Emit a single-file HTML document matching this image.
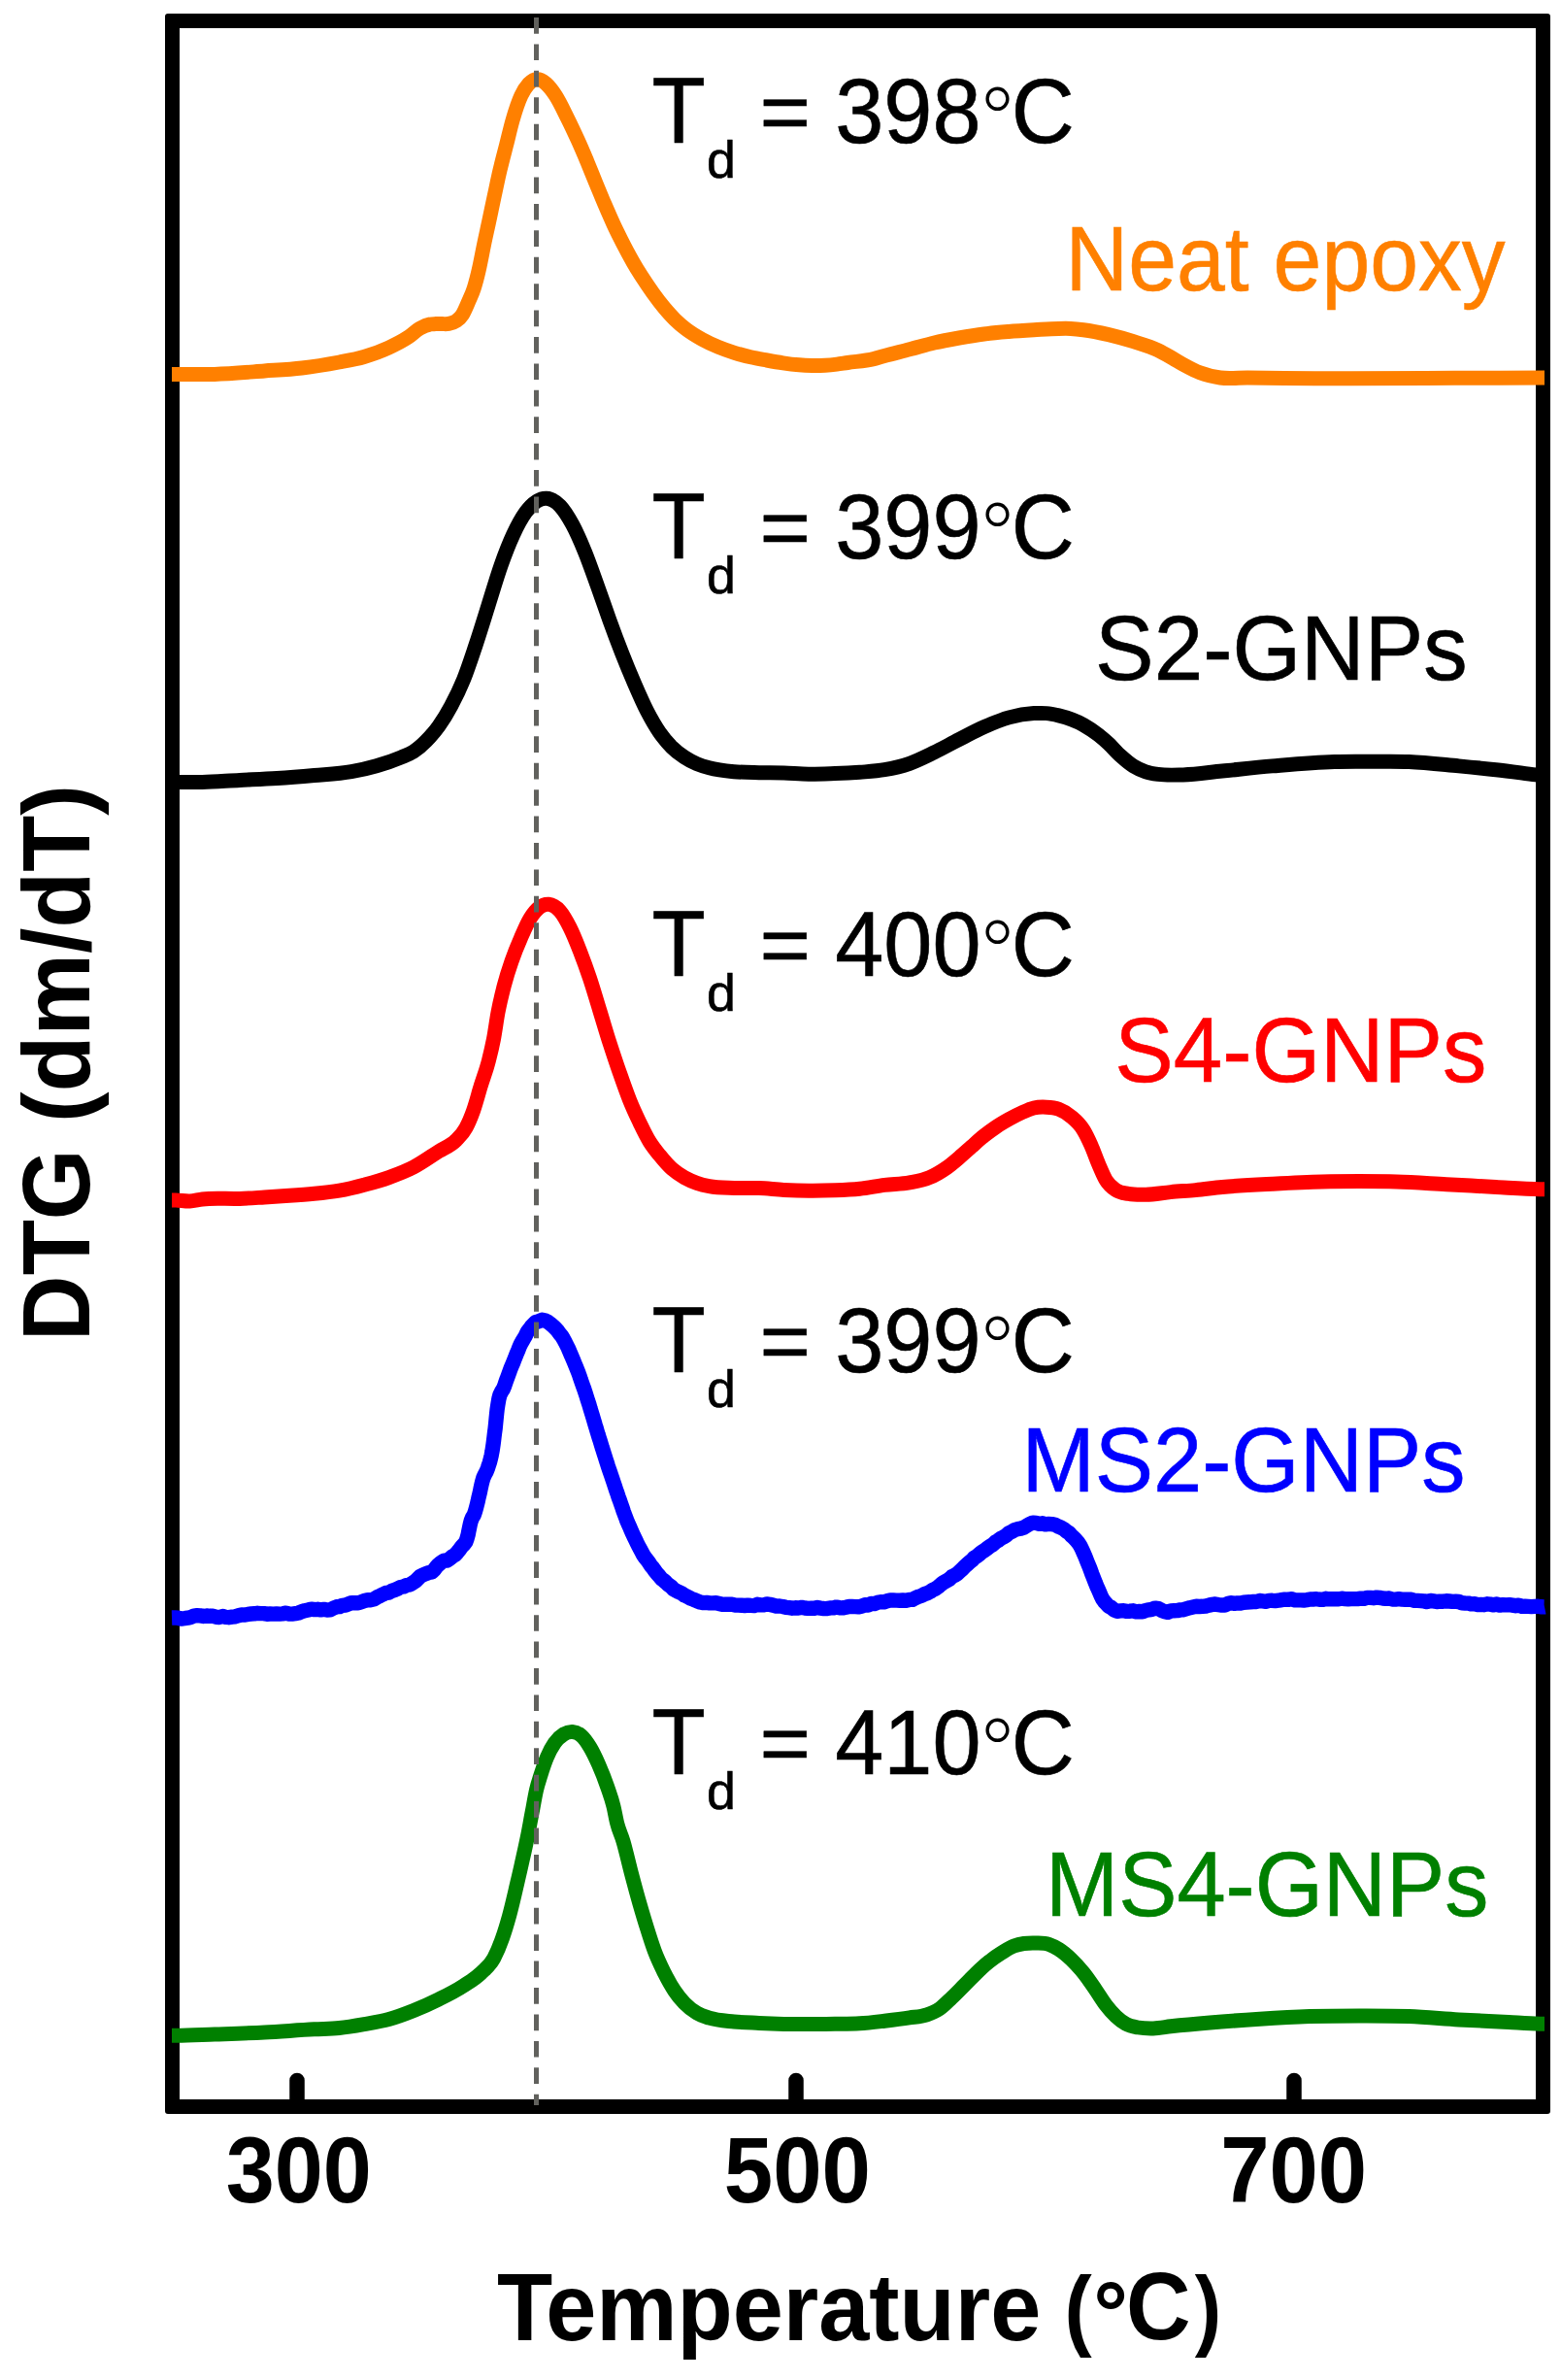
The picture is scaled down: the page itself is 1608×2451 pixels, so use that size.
<!DOCTYPE html>
<html><head><meta charset="utf-8"><title>DTG curves</title>
<style>html,body{margin:0;padding:0;background:#fff;overflow:hidden}svg{display:block}</style></head>
<body>
<svg width="1608" height="2451" viewBox="0 0 1608 2451">
<rect x="0" y="0" width="1608" height="2451" fill="#fff"/>
<path fill="#000" fill-rule="evenodd" d="M173 14H1594a3 3 0 0 1 3 3V2174a3 3 0 0 1 -3 3H173a3 3 0 0 1 -3 -3V17a3 3 0 0 1 3 -3ZM185 29V2162H1582V29Z"/>
<line x1="306" y1="2142.5" x2="306" y2="2165" stroke="#000" stroke-width="15.5" stroke-linecap="round"/>
<line x1="820" y1="2142.5" x2="820" y2="2165" stroke="#000" stroke-width="15.5" stroke-linecap="round"/>
<line x1="1333" y1="2142.5" x2="1333" y2="2165" stroke="#000" stroke-width="15.5" stroke-linecap="round"/>
<path d="M177.0 385.4C178.7 385.4 180.3 385.4 182.0 385.4C195.0 385.4 208.0 385.8 221.0 385.4C238.2 384.9 255.3 383.3 272.5 382.0C285.3 381.1 298.2 380.5 311.0 379.0C323.8 377.5 336.6 375.4 349.4 373.0C357.9 371.4 366.5 370.0 375.0 367.5C383.5 365.0 392.1 362.0 400.6 358.0C407.1 355.0 413.5 351.9 420.0 347.6C424.3 344.8 428.5 340.4 432.8 338.0C436.2 336.1 439.6 334.6 443.0 334.0C445.0 333.6 447.0 333.7 449.0 333.6C451.3 333.5 453.7 333.6 456.0 333.6C458.1 333.6 460.2 333.8 462.3 333.4C464.9 332.9 467.4 332.4 470.0 330.5C472.1 329.0 474.3 327.4 476.4 324.0C478.6 320.5 480.8 314.9 483.0 309.8C484.7 305.8 486.5 302.4 488.2 297.0C489.9 291.7 491.6 285.2 493.3 277.8C495.0 270.3 496.8 260.5 498.5 252.2C500.3 243.4 502.2 235.2 504.0 226.6C505.8 218.1 507.6 209.4 509.4 201.0C511.3 192.3 513.1 183.3 515.0 175.3C517.2 166.0 519.3 158.2 521.5 149.7C523.7 141.1 525.8 131.6 528.0 124.0C531.0 113.6 533.9 104.8 536.9 98.4C539.4 92.9 542.0 89.3 544.5 86.5C546.0 84.9 547.5 83.6 549.0 82.8C550.4 82.1 551.8 81.9 553.2 81.8C554.6 81.8 556.1 82.0 557.5 82.6C559.1 83.3 560.7 84.6 562.3 86.0C565.6 88.9 569.0 93.3 572.3 98.4C576.4 104.7 580.4 113.4 584.5 121.6C588.1 128.8 591.6 136.3 595.2 144.2C598.5 151.4 601.7 159.0 605.0 166.8C607.8 173.6 610.7 180.8 613.5 187.7C616.7 195.4 619.8 203.2 623.0 210.6C626.0 217.6 629.0 224.5 632.0 231.0C634.5 236.4 637.0 241.4 639.5 246.4C643.7 254.8 648.0 262.8 652.2 270.2C654.9 274.9 657.6 279.3 660.3 283.6C664.4 290.0 668.4 295.9 672.5 301.6C676.5 307.2 680.6 312.6 684.6 317.4C688.1 321.5 691.5 325.4 695.0 328.8C698.9 332.6 702.7 335.9 706.6 338.9C712.2 343.2 717.7 346.4 723.3 349.5C728.9 352.6 734.4 355.1 740.0 357.4C745.5 359.7 751.1 361.6 756.6 363.3C762.1 365.0 767.7 366.5 773.2 367.8C778.8 369.1 784.4 370.0 790.0 371.0C795.5 372.0 801.1 373.0 806.6 373.8C812.1 374.6 817.7 375.3 823.2 375.8C827.6 376.2 832.1 376.4 836.5 376.5C841.0 376.6 845.5 376.5 850.0 376.2C854.0 376.0 858.0 375.6 862.0 375.1C865.7 374.7 869.5 374.0 873.2 373.5C882.1 372.2 891.1 371.8 900.0 369.6C903.7 368.7 907.3 367.5 911.0 366.5C919.7 364.1 928.3 362.1 937.0 359.8C945.5 357.6 954.0 355.0 962.5 353.0C971.0 351.0 979.5 349.5 988.0 348.0C996.6 346.5 1005.1 345.1 1013.7 344.0C1022.1 342.9 1030.6 342.2 1039.0 341.5C1047.7 340.8 1056.3 340.3 1065.0 339.8C1073.5 339.3 1082.1 338.6 1090.6 338.4C1094.7 338.3 1098.9 338.2 1103.0 338.4C1107.3 338.6 1111.7 339.1 1116.0 339.7C1124.7 340.8 1133.3 342.6 1142.0 344.6C1150.5 346.6 1159.0 349.0 1167.5 351.7C1176.0 354.4 1184.5 356.6 1193.0 360.7C1198.0 363.1 1203.0 366.1 1208.0 369.0C1212.0 371.3 1216.0 373.8 1220.0 376.0C1225.3 378.9 1230.7 381.8 1236.0 383.8C1243.0 386.5 1250.0 388.0 1257.0 389.0C1266.3 390.3 1275.7 389.0 1285.0 389.0C1297.7 389.1 1310.3 389.3 1323.0 389.4C1412.3 390.2 1501.7 389.1 1591.0 389.0" fill="none" stroke="#ff8000" stroke-width="15" stroke-linejoin="round" stroke-linecap="butt"/>
<path d="M177.0 805.4C187.5 805.4 197.9 805.6 208.4 805.4C221.3 805.1 234.1 804.0 247.0 803.4C259.8 802.8 272.5 802.4 285.3 801.6C298.1 800.8 310.9 799.7 323.7 798.5C336.5 797.4 349.2 797.0 362.0 794.7C370.6 793.2 379.2 791.3 387.8 788.8C396.3 786.3 404.9 783.4 413.4 779.8C417.6 778.0 421.8 776.7 426.0 774.0C430.3 771.2 434.7 767.4 439.0 763.0C443.3 758.6 447.7 753.9 452.0 747.8C456.2 741.8 460.5 734.9 464.7 727.0C469.0 719.0 473.2 710.6 477.5 700.0C481.7 689.7 485.8 677.0 490.0 664.5C494.3 651.5 498.7 637.2 503.0 623.5C507.3 609.8 511.7 594.8 516.0 582.5C520.2 570.5 524.5 559.6 528.7 550.5C533.0 541.2 537.3 533.3 541.6 527.4C545.2 522.5 548.9 518.8 552.5 516.5C555.9 514.3 559.4 513.1 562.8 513.3C567.5 513.5 572.2 516.1 576.9 521.0C581.2 525.5 585.4 532.3 589.7 540.2C594.0 548.1 598.2 557.9 602.5 568.4C606.8 578.9 611.0 591.2 615.3 603.0C619.5 614.7 623.8 627.3 628.0 638.9C632.3 650.8 636.7 662.5 641.0 673.5C645.2 684.2 649.5 694.5 653.7 704.2C658.0 714.1 662.3 724.0 666.6 732.4C670.9 740.7 675.1 748.0 679.4 754.2C683.7 760.4 687.9 765.3 692.2 769.6C696.5 773.9 700.7 776.9 705.0 779.8C709.3 782.6 713.5 784.9 717.8 786.7C722.1 788.5 726.3 789.7 730.6 790.8C739.1 793.1 747.7 793.9 756.2 794.7C764.8 795.5 773.3 795.5 781.9 795.7C790.4 795.9 799.0 795.7 807.5 796.0C816.0 796.3 824.5 797.1 833.0 797.2C842.0 797.3 851.0 796.9 860.0 796.6C868.5 796.3 877.1 795.9 885.6 795.3C894.1 794.6 902.7 794.2 911.2 792.7C919.8 791.2 928.3 789.3 936.9 786.3C945.4 783.3 954.0 778.9 962.5 774.8C971.0 770.7 979.5 765.8 988.0 761.5C996.6 757.1 1005.1 752.5 1013.7 748.7C1022.3 744.9 1030.8 741.3 1039.4 738.9C1047.9 736.6 1056.5 735.1 1065.0 734.6C1069.3 734.4 1073.5 734.2 1077.8 734.6C1082.1 735.0 1086.3 735.9 1090.6 736.9C1099.1 739.0 1107.7 741.8 1116.2 746.6C1121.3 749.5 1126.5 752.9 1131.6 756.9C1135.0 759.6 1138.5 762.6 1141.9 765.8C1146.2 769.8 1150.4 774.9 1154.7 778.7C1159.0 782.6 1163.2 786.2 1167.5 788.9C1171.8 791.6 1176.0 793.4 1180.3 794.8C1184.5 796.2 1188.8 796.8 1193.0 797.4C1201.6 798.6 1210.1 798.1 1218.7 797.9C1232.1 797.6 1245.6 795.3 1259.0 794.0C1276.2 792.3 1293.3 790.4 1310.5 788.9C1331.9 787.1 1353.2 785.1 1374.6 784.5C1387.4 784.1 1400.2 784.3 1413.0 784.3C1425.8 784.3 1438.6 784.0 1451.4 784.5C1468.5 785.2 1485.6 787.3 1502.7 788.9C1515.5 790.1 1528.2 791.3 1541.0 792.7C1554.7 794.2 1568.3 796.2 1582.0 797.9C1585.0 798.3 1588.0 798.6 1591.0 799.0" fill="none" stroke="#000000" stroke-width="15" stroke-linejoin="round" stroke-linecap="butt"/>
<path d="M177.0 1236.0C178.3 1236.0 179.7 1236.0 181.0 1236.0C185.9 1236.1 190.7 1237.2 195.6 1237.0C199.9 1236.8 204.1 1235.5 208.4 1235.0C221.3 1233.4 234.1 1234.9 247.0 1234.4C255.5 1234.1 264.0 1233.5 272.5 1233.0C281.0 1232.5 289.5 1231.9 298.0 1231.3C306.6 1230.7 315.1 1230.1 323.7 1229.3C332.3 1228.5 340.8 1227.7 349.4 1226.2C357.9 1224.7 366.5 1222.6 375.0 1220.3C383.5 1218.0 392.1 1215.7 400.6 1212.6C409.1 1209.5 417.7 1206.4 426.2 1201.9C434.8 1197.4 443.3 1191.2 451.9 1185.7C457.9 1181.9 463.8 1180.4 469.8 1174.2C473.2 1170.7 476.6 1167.8 480.0 1161.4C482.6 1156.6 485.1 1150.7 487.7 1143.4C490.3 1136.1 492.8 1126.2 495.4 1117.8C498.1 1109.0 500.8 1102.6 503.5 1092.0C505.2 1085.4 506.8 1078.8 508.5 1070.0C510.0 1062.0 511.5 1050.6 513.0 1042.5C515.1 1031.2 517.2 1023.1 519.3 1015.0C521.9 1005.1 524.4 997.5 527.0 990.0C530.2 980.7 533.3 973.3 536.5 966.0C539.7 958.7 542.8 951.2 546.0 946.0C549.2 940.8 552.3 937.0 555.5 934.5C558.8 932.0 562.0 931.0 565.3 931.3C569.2 931.7 573.0 933.9 576.9 938.4C580.3 942.3 583.6 948.3 587.0 955.0C590.5 961.9 593.9 970.5 597.4 979.4C600.8 988.1 604.2 997.4 607.6 1007.6C611.0 1017.9 614.5 1029.8 617.9 1041.0C621.3 1052.0 624.6 1063.5 628.0 1074.0C631.5 1084.8 634.9 1095.1 638.4 1105.0C641.8 1114.7 645.2 1124.5 648.6 1133.0C652.0 1141.6 655.5 1148.9 658.9 1156.0C662.3 1163.0 665.6 1170.0 669.0 1175.5C672.5 1181.2 675.9 1185.3 679.4 1189.6C683.7 1194.9 687.9 1199.9 692.2 1203.7C696.5 1207.5 700.7 1210.2 705.0 1212.6C709.3 1215.0 713.5 1216.8 717.8 1218.3C722.1 1219.8 726.3 1220.8 730.6 1221.6C739.1 1223.3 747.7 1223.1 756.2 1223.4C764.8 1223.7 773.3 1223.3 781.9 1223.6C790.4 1223.9 799.0 1225.0 807.5 1225.4C816.0 1225.8 824.5 1226.1 833.0 1226.2C842.0 1226.3 851.0 1226.1 860.0 1225.8C868.5 1225.5 877.1 1225.2 885.6 1224.3C894.1 1223.4 902.7 1221.5 911.2 1220.4C919.8 1219.3 928.3 1219.5 936.9 1217.9C943.7 1216.6 950.6 1215.6 957.4 1212.7C963.4 1210.2 969.3 1206.7 975.3 1202.5C979.5 1199.5 983.8 1195.8 988.0 1192.2C992.3 1188.5 996.7 1184.5 1001.0 1180.7C1005.2 1177.0 1009.5 1173.1 1013.7 1169.7C1018.0 1166.3 1022.3 1163.1 1026.6 1160.2C1030.9 1157.3 1035.1 1154.9 1039.4 1152.5C1043.7 1150.1 1047.9 1147.9 1052.2 1146.0C1056.5 1144.1 1060.7 1142.0 1065.0 1141.0C1069.3 1140.0 1073.5 1140.0 1077.8 1140.2C1082.1 1140.4 1086.3 1140.7 1090.6 1142.3C1094.9 1143.9 1099.1 1146.4 1103.4 1150.0C1107.7 1153.6 1111.9 1156.9 1116.2 1164.0C1118.8 1168.3 1121.3 1173.6 1123.9 1179.4C1126.5 1185.2 1129.0 1192.7 1131.6 1198.7C1134.2 1204.7 1136.7 1211.0 1139.3 1215.3C1142.7 1221.0 1146.2 1223.2 1149.6 1225.6C1153.9 1228.5 1158.1 1228.6 1162.4 1229.4C1168.4 1230.5 1174.3 1230.3 1180.3 1230.2C1188.9 1230.1 1197.4 1228.4 1206.0 1227.6C1214.5 1226.8 1223.1 1226.4 1231.6 1225.6C1240.7 1224.7 1249.9 1223.4 1259.0 1222.5C1276.2 1220.9 1293.3 1220.1 1310.5 1219.2C1327.6 1218.3 1344.6 1217.4 1361.7 1217.0C1374.5 1216.7 1387.2 1216.6 1400.0 1216.6C1412.9 1216.6 1425.7 1216.6 1438.6 1217.0C1455.7 1217.5 1472.9 1218.8 1490.0 1219.7C1507.0 1220.6 1524.0 1221.6 1541.0 1222.5C1556.0 1223.3 1571.0 1224.4 1586.0 1224.7C1587.7 1224.7 1589.3 1224.8 1591.0 1224.8" fill="none" stroke="#ff0000" stroke-width="15" stroke-linejoin="round" stroke-linecap="butt"/>
<path d="M177.0 1666.0L180.2 1665.9L183.5 1666.2L186.8 1667.1L190.0 1666.7L193.3 1666.2L196.5 1665.5L199.8 1664.1L203.0 1663.7L206.3 1663.9L209.6 1664.5L212.9 1664.0L216.2 1664.3L219.4 1664.2L222.7 1665.3L226.0 1665.5L229.3 1664.5L232.5 1665.4L235.8 1665.7L239.1 1665.2L242.4 1664.8L245.6 1663.7L248.9 1662.9L252.2 1663.1L255.4 1662.4L258.7 1662.0L262.0 1661.8L265.2 1661.3L268.5 1661.6L271.7 1661.6L275.0 1662.2L278.2 1662.0L281.5 1662.1L284.8 1661.9L288.0 1662.1L291.2 1661.8L294.5 1661.2L297.8 1662.0L301.0 1662.1L304.3 1661.7L307.6 1661.0L310.9 1659.7L314.1 1658.7L317.4 1658.0L320.7 1657.1L323.9 1657.6L327.2 1657.3L330.4 1657.9L333.7 1657.4L336.9 1658.0L340.2 1657.9L343.4 1656.1L346.7 1654.8L349.7 1654.6L352.7 1653.3L356.0 1653.0L359.2 1651.8L362.5 1650.6L365.8 1650.7L369.0 1650.8L372.2 1649.7L375.5 1648.5L378.8 1647.7L382.0 1647.7L385.2 1646.8L388.5 1644.8L391.5 1643.4L394.5 1641.9L397.5 1640.5L400.5 1640.2L403.6 1638.4L406.6 1637.4L409.6 1636.1L412.6 1634.5L415.7 1634.0L418.9 1632.5L422.2 1631.9L425.2 1630.1L428.0 1628.3L430.5 1625.8L433.0 1623.3L435.5 1622.0L438.5 1620.7L441.9 1619.5L444.9 1619.0L447.5 1616.3L449.6 1613.5L451.6 1611.4L454.2 1609.3L457.2 1607.2L460.4 1607.1L463.4 1605.1L466.2 1602.8L468.8 1601.2L471.1 1598.7L473.4 1595.9L475.4 1593.0L477.7 1590.6L479.8 1588.0L481.0 1584.6L482.1 1580.7L482.8 1577.0L483.6 1573.1L484.3 1569.7L485.3 1565.9L486.6 1562.8L488.2 1560.2L489.4 1556.8L490.4 1553.2L491.4 1549.4L492.2 1546.2L492.9 1542.8L493.7 1539.4L494.5 1536.1L495.2 1532.5L496.0 1528.8L496.8 1525.6L497.8 1522.1L499.1 1519.1L500.9 1515.8L502.4 1512.1L503.4 1508.9L504.4 1506.0L505.4 1502.1L506.2 1498.7L507.0 1494.4L507.5 1491.3L508.0 1487.8L508.5 1483.9L509.0 1479.9L509.5 1475.8L510.1 1471.4L510.6 1466.5L511.1 1461.3L511.6 1456.3L512.1 1451.6L512.7 1447.6L513.2 1444.5L513.9 1440.5L514.9 1436.6L516.5 1433.3L518.2 1430.7L519.8 1426.9L521.0 1423.3L522.2 1419.9L523.5 1416.5L524.8 1412.9L526.0 1409.5L527.2 1406.6L528.5 1403.6L529.8 1400.3L531.0 1397.2L532.2 1394.2L533.8 1390.4L535.2 1386.8L536.8 1383.4L538.2 1381.0L539.8 1378.2L541.5 1375.3L543.2 1371.7L545.3 1369.0L547.3 1366.3L549.5 1363.9L552.0 1361.4L555.1 1360.7L558.4 1359.3L561.8 1360.0L564.8 1361.6L567.5 1363.8L570.0 1365.9L572.3 1368.1L574.6 1370.7L576.6 1373.5L578.7 1376.0L580.5 1379.0L582.3 1382.4L583.8 1385.4L585.3 1388.4L586.8 1391.9L588.1 1395.0L589.4 1397.9L590.7 1401.0L591.9 1404.0L593.2 1407.2L594.5 1410.4L595.7 1413.4L597.0 1417.0L598.2 1420.7L599.5 1424.3L600.7 1427.8L602.0 1431.3L603.0 1434.4L604.0 1437.5L605.0 1440.7L606.1 1444.1L607.1 1447.2L608.1 1450.8L609.1 1454.0L610.2 1457.5L611.2 1460.9L612.2 1464.2L613.2 1467.7L614.2 1470.9L615.2 1474.3L616.2 1477.7L617.2 1480.8L618.2 1483.9L619.2 1487.2L620.2 1490.6L621.2 1493.7L622.2 1496.8L623.3 1500.3L624.3 1503.5L625.3 1506.5L626.3 1509.8L627.3 1512.7L628.4 1515.8L629.6 1519.4L630.9 1523.2L632.2 1527.1L633.5 1531.0L634.7 1534.8L636.0 1538.3L637.2 1542.0L638.5 1545.5L639.7 1549.0L641.0 1552.6L642.2 1556.4L643.5 1559.9L644.8 1563.2L646.0 1566.6L647.3 1569.4L648.6 1572.3L649.9 1575.4L651.4 1578.8L652.9 1582.1L654.5 1585.4L656.0 1588.6L657.5 1591.6L659.2 1594.7L661.0 1598.1L662.7 1601.4L664.5 1604.0L666.3 1606.3L668.3 1608.9L670.4 1612.3L672.4 1614.5L674.5 1617.5L676.7 1620.4L679.0 1622.8L681.2 1625.7L683.5 1627.4L686.0 1629.6L688.5 1632.1L691.0 1633.7L693.8 1636.6L696.5 1638.2L699.3 1639.6L702.4 1641.0L705.4 1643.1L708.5 1644.5L711.5 1646.1L714.8 1647.4L718.0 1648.8L721.2 1650.0L724.5 1650.6L727.8 1650.4L731.0 1650.9L734.3 1650.9L737.6 1650.7L740.9 1651.5L744.2 1652.4L747.4 1652.1L750.7 1652.2L753.9 1652.3L757.2 1653.0L760.5 1653.1L763.7 1653.2L767.0 1653.5L770.3 1653.1L773.5 1653.4L776.8 1653.6L780.1 1652.3L783.3 1652.9L786.6 1652.9L789.9 1652.0L793.1 1652.4L796.4 1653.1L799.7 1654.1L803.0 1654.0L806.2 1654.5L809.5 1655.3L812.8 1655.7L816.0 1656.2L819.2 1655.8L822.5 1656.0L825.8 1655.4L829.0 1656.0L832.2 1656.4L835.5 1656.3L838.8 1656.3L842.0 1655.5L845.2 1656.1L848.5 1656.5L851.8 1656.6L855.0 1655.9L858.2 1655.9L861.5 1655.1L864.8 1655.7L868.0 1655.9L871.3 1655.2L874.6 1654.4L877.8 1654.5L881.1 1654.6L884.3 1654.8L887.6 1654.2L890.9 1652.8L894.2 1653.0L897.4 1651.5L900.7 1651.6L904.0 1650.3L907.2 1649.7L910.5 1649.9L913.8 1648.8L917.0 1648.0L920.2 1648.0L923.5 1648.1L926.8 1648.2L930.0 1648.0L933.3 1648.2L936.6 1647.4L939.8 1647.4L943.1 1645.6L946.4 1644.2L949.4 1643.2L952.4 1641.6L955.4 1640.6L958.5 1639.0L961.2 1637.2L964.0 1635.9L966.8 1633.8L969.5 1631.5L972.3 1629.4L975.0 1627.9L977.8 1626.4L980.6 1623.7L983.4 1622.3L986.2 1620.6L988.8 1618.2L991.2 1616.0L993.8 1613.2L996.2 1611.1L998.8 1608.8L1001.3 1606.8L1003.8 1604.0L1006.3 1602.7L1008.9 1600.5L1011.4 1598.3L1014.2 1596.6L1017.0 1594.5L1019.8 1592.4L1022.6 1590.8L1025.3 1588.2L1028.1 1586.5L1030.9 1584.4L1033.6 1583.0L1036.4 1581.4L1039.1 1578.9L1042.2 1577.4L1045.2 1575.6L1048.4 1574.7L1051.4 1574.2L1054.5 1573.2L1057.6 1571.3L1060.6 1569.5L1063.9 1568.1L1067.2 1568.4L1070.5 1569.3L1073.8 1568.8L1077.0 1569.9L1080.3 1569.4L1083.6 1569.6L1086.8 1570.2L1090.1 1572.0L1093.1 1573.2L1096.1 1574.9L1098.9 1577.2L1101.4 1578.8L1103.9 1581.7L1106.4 1583.8L1108.7 1586.4L1110.7 1588.8L1112.7 1591.8L1114.5 1595.4L1116.0 1598.7L1117.3 1601.7L1118.6 1604.9L1119.9 1608.2L1121.1 1611.1L1122.4 1614.2L1123.7 1617.7L1124.9 1621.1L1126.2 1624.3L1127.5 1627.7L1128.7 1630.8L1130.0 1633.9L1131.3 1636.7L1132.6 1639.8L1134.1 1643.4L1135.7 1646.6L1137.5 1649.2L1139.5 1651.4L1142.0 1654.2L1144.7 1655.4L1147.8 1657.9L1150.8 1659.3L1154.1 1658.9L1157.4 1658.8L1160.6 1659.4L1163.9 1659.2L1167.2 1658.8L1170.5 1659.8L1173.7 1659.5L1177.0 1659.7L1180.3 1658.5L1183.6 1657.8L1186.8 1657.3L1190.1 1656.1L1193.4 1656.6L1196.4 1658.3L1199.7 1659.7L1203.0 1660.3L1206.2 1659.0L1209.5 1658.7L1212.7 1658.6L1216.0 1657.9L1219.2 1657.7L1222.5 1656.7L1225.8 1655.7L1229.0 1655.0L1232.3 1654.3L1235.6 1654.5L1238.8 1654.3L1242.1 1654.0L1245.4 1653.1L1248.7 1652.4L1251.9 1652.0L1255.2 1652.6L1258.4 1653.0L1261.7 1653.0L1264.9 1651.5L1268.2 1650.6L1271.4 1651.4L1274.7 1650.9L1277.9 1651.0L1281.2 1650.2L1284.4 1650.0L1287.7 1649.8L1290.9 1649.5L1294.2 1649.5L1297.4 1648.5L1300.7 1648.9L1303.9 1649.3L1307.2 1648.4L1310.5 1648.3L1313.7 1648.6L1317.0 1648.2L1320.2 1647.6L1323.5 1647.1L1326.7 1647.4L1330.0 1646.7L1333.2 1647.7L1336.5 1647.9L1339.8 1647.9L1343.0 1648.0L1346.3 1647.6L1349.5 1647.0L1352.8 1647.0L1356.1 1646.7L1359.3 1647.3L1362.6 1647.3L1365.8 1646.3L1369.1 1646.8L1372.4 1646.8L1375.6 1646.8L1378.9 1646.8L1382.1 1646.2L1385.4 1646.6L1388.7 1646.8L1391.9 1646.6L1395.2 1646.6L1398.4 1646.6L1401.7 1646.1L1405.0 1646.3L1408.2 1645.4L1411.5 1645.4L1414.8 1645.7L1418.0 1645.1L1421.3 1645.4L1424.5 1646.0L1427.8 1646.4L1431.1 1646.0L1434.3 1647.0L1437.6 1647.1L1440.9 1646.7L1444.1 1647.1L1447.4 1647.2L1450.6 1647.3L1453.9 1647.3L1457.2 1648.3L1460.4 1648.4L1463.7 1648.6L1466.9 1648.9L1470.2 1649.6L1473.5 1648.4L1476.7 1648.9L1480.0 1649.5L1483.2 1649.1L1486.5 1649.2L1489.7 1648.8L1493.0 1649.0L1496.2 1649.4L1499.5 1649.3L1502.8 1649.5L1506.0 1650.8L1509.2 1651.0L1512.5 1651.1L1515.8 1651.9L1519.0 1651.8L1522.2 1652.6L1525.5 1652.4L1528.8 1652.7L1532.0 1651.8L1535.2 1652.2L1538.5 1652.8L1541.8 1652.0L1545.0 1653.1L1548.2 1652.6L1551.5 1652.9L1554.8 1652.6L1558.0 1653.1L1561.2 1653.7L1564.5 1653.1L1567.8 1654.4L1571.0 1654.2L1574.2 1654.4L1577.5 1654.6L1580.8 1654.4L1584.0 1654.2L1587.2 1654.8L1590.5 1654.9L1591.0 1654.8" fill="none" stroke="#0000ff" stroke-width="15.4" stroke-linejoin="round" stroke-linecap="butt"/>
<path d="M177.0 2096.2C178.7 2096.2 180.3 2096.2 182.0 2096.2C195.1 2096.2 208.1 2095.4 221.2 2095.0C238.3 2094.4 255.4 2093.9 272.5 2093.0C289.6 2092.1 306.6 2090.7 323.7 2089.8C332.3 2089.3 340.8 2089.4 349.4 2088.5C357.9 2087.6 366.5 2086.1 375.0 2084.6C383.5 2083.1 392.1 2081.8 400.6 2079.5C409.1 2077.2 417.7 2073.9 426.2 2070.5C434.8 2067.1 443.3 2063.3 451.9 2059.0C460.4 2054.8 469.0 2050.6 477.5 2045.0C483.5 2041.1 489.4 2037.8 495.4 2032.0C499.8 2027.7 504.3 2025.0 508.7 2016.7C511.6 2011.2 514.6 2004.3 517.5 1996.0C519.9 1989.3 522.2 1981.7 524.6 1973.0C526.8 1964.9 529.0 1955.3 531.2 1946.0C533.2 1937.4 535.3 1928.6 537.3 1919.5C539.3 1910.6 541.3 1901.9 543.3 1892.0C545.0 1883.7 546.6 1874.3 548.3 1865.5C549.7 1858.1 551.1 1849.6 552.5 1843.5C554.0 1836.9 555.5 1832.8 557.0 1828.0C559.1 1821.3 561.2 1815.1 563.3 1810.0C566.0 1803.5 568.6 1798.9 571.3 1795.0C574.4 1790.4 577.6 1787.9 580.7 1786.0C583.7 1784.2 586.7 1783.4 589.7 1783.6C592.7 1783.8 595.7 1784.8 598.7 1787.4C601.7 1790.0 604.6 1794.1 607.6 1799.0C610.6 1803.9 613.6 1810.2 616.6 1817.0C619.6 1823.8 622.6 1831.2 625.6 1840.0C627.7 1846.2 629.9 1851.5 632.0 1860.4C633.2 1865.3 634.3 1872.2 635.5 1877.0C637.7 1885.9 639.8 1889.0 642.0 1896.3C644.8 1905.9 647.7 1918.9 650.5 1929.6C653.3 1940.2 656.1 1950.6 658.9 1960.4C661.5 1969.4 664.0 1977.9 666.6 1986.0C669.1 1994.0 671.7 2002.2 674.2 2009.0C677.6 2018.2 681.1 2025.1 684.5 2032.0C687.9 2038.8 691.3 2044.9 694.7 2050.0C698.1 2055.2 701.6 2059.3 705.0 2062.9C709.3 2067.4 713.5 2070.5 717.8 2073.0C722.1 2075.6 726.3 2076.8 730.6 2078.2C739.1 2080.9 747.7 2081.1 756.2 2082.0C764.8 2082.9 773.3 2083.0 781.9 2083.4C798.9 2084.2 816.0 2084.6 833.0 2084.6C842.0 2084.6 851.0 2084.4 860.0 2084.3C868.5 2084.2 877.1 2084.3 885.6 2083.8C894.1 2083.3 902.7 2082.2 911.2 2081.2C919.8 2080.2 928.3 2079.2 936.9 2077.9C942.9 2077.0 948.8 2076.8 954.8 2074.8C959.1 2073.3 963.3 2071.8 967.6 2068.9C971.9 2066.0 976.1 2061.5 980.4 2057.4C984.7 2053.3 988.9 2048.9 993.2 2044.6C997.5 2040.3 1001.7 2035.8 1006.0 2031.7C1010.3 2027.6 1014.6 2023.6 1018.9 2020.2C1023.2 2016.8 1027.4 2013.9 1031.7 2011.2C1036.0 2008.5 1040.2 2005.6 1044.5 2004.0C1047.9 2002.7 1051.3 2002.0 1054.7 2001.5C1059.0 2000.8 1063.3 2000.9 1067.6 2001.0C1071.9 2001.1 1076.1 2000.9 1080.4 2002.3C1083.8 2003.4 1087.2 2005.2 1090.6 2007.4C1094.9 2010.1 1099.1 2013.7 1103.4 2017.7C1107.7 2021.8 1111.9 2026.4 1116.2 2031.7C1120.5 2037.0 1124.7 2043.5 1129.0 2049.7C1132.4 2054.7 1135.9 2060.5 1139.3 2065.0C1142.7 2069.5 1146.2 2073.4 1149.6 2076.6C1153.0 2079.8 1156.4 2082.4 1159.8 2084.3C1164.1 2086.6 1168.3 2087.2 1172.6 2088.0C1177.7 2088.9 1182.9 2089.0 1188.0 2088.9C1194.0 2088.8 1200.0 2087.5 1206.0 2086.8C1219.5 2085.3 1232.9 2084.1 1246.4 2083.0C1263.5 2081.5 1280.6 2080.3 1297.7 2079.2C1314.8 2078.1 1331.9 2077.1 1349.0 2076.6C1366.0 2076.1 1383.0 2076.0 1400.0 2076.0C1417.1 2076.0 1434.3 2075.9 1451.4 2076.6C1468.5 2077.3 1485.6 2078.9 1502.7 2079.9C1519.8 2080.9 1536.9 2081.6 1554.0 2082.5C1564.7 2083.1 1575.3 2083.9 1586.0 2084.2C1587.7 2084.2 1589.3 2084.3 1591.0 2084.3" fill="none" stroke="#008000" stroke-width="15" stroke-linejoin="round" stroke-linecap="butt"/>
<line x1="552.5" y1="17.96" x2="552.5" y2="2168" stroke="#61615d" stroke-width="5" stroke-dasharray="16.7 10.72"/>
<g><text transform="translate(671.39,146.90) scale(0.9537,1.0062)" font-family="Liberation Sans, Arial, sans-serif" font-size="95" font-weight="normal" fill="#000" stroke="#000" stroke-width="0.6">T</text><text transform="translate(727.98,183.20) scale(1.0125,1.0051)" font-family="Liberation Sans, Arial, sans-serif" font-size="53" font-weight="normal" fill="#000" stroke="#000" stroke-width="0.6">d</text><text transform="translate(782.55,144.10) scale(0.9500,0.9000)" font-family="Liberation Sans, Arial, sans-serif" font-size="95" font-weight="normal" fill="#000" stroke="#000" stroke-width="0.6">=</text><text transform="translate(860.21,146.81) scale(0.9487,0.9896)" font-family="Liberation Sans, Arial, sans-serif" font-size="95" font-weight="normal" fill="#000" stroke="#000" stroke-width="0.6">398</text><text transform="translate(1005.00,154.50) scale(1.0000,1.0000)" font-family="DejaVu Sans Light, DejaVu Sans, sans-serif" font-size="90" font-weight="200" fill="#000">°</text><text transform="translate(1041.86,146.80) scale(0.9483,1.0030)" font-family="Liberation Sans, Arial, sans-serif" font-size="95" font-weight="normal" fill="#000" stroke="#000" stroke-width="0.6">C</text></g>
<g><text transform="translate(671.39,574.90) scale(0.9537,1.0062)" font-family="Liberation Sans, Arial, sans-serif" font-size="95" font-weight="normal" fill="#000" stroke="#000" stroke-width="0.6">T</text><text transform="translate(727.98,611.20) scale(1.0125,1.0051)" font-family="Liberation Sans, Arial, sans-serif" font-size="53" font-weight="normal" fill="#000" stroke="#000" stroke-width="0.6">d</text><text transform="translate(782.55,572.10) scale(0.9500,0.9000)" font-family="Liberation Sans, Arial, sans-serif" font-size="95" font-weight="normal" fill="#000" stroke="#000" stroke-width="0.6">=</text><text transform="translate(860.21,574.81) scale(0.9487,0.9896)" font-family="Liberation Sans, Arial, sans-serif" font-size="95" font-weight="normal" fill="#000" stroke="#000" stroke-width="0.6">399</text><text transform="translate(1005.00,582.50) scale(1.0000,1.0000)" font-family="DejaVu Sans Light, DejaVu Sans, sans-serif" font-size="90" font-weight="200" fill="#000">°</text><text transform="translate(1041.86,574.80) scale(0.9483,1.0030)" font-family="Liberation Sans, Arial, sans-serif" font-size="95" font-weight="normal" fill="#000" stroke="#000" stroke-width="0.6">C</text></g>
<g><text transform="translate(671.39,1004.90) scale(0.9537,1.0062)" font-family="Liberation Sans, Arial, sans-serif" font-size="95" font-weight="normal" fill="#000" stroke="#000" stroke-width="0.6">T</text><text transform="translate(727.98,1041.20) scale(1.0125,1.0051)" font-family="Liberation Sans, Arial, sans-serif" font-size="53" font-weight="normal" fill="#000" stroke="#000" stroke-width="0.6">d</text><text transform="translate(782.55,1002.10) scale(0.9500,0.9000)" font-family="Liberation Sans, Arial, sans-serif" font-size="95" font-weight="normal" fill="#000" stroke="#000" stroke-width="0.6">=</text><text transform="translate(860.21,1004.81) scale(0.9487,0.9896)" font-family="Liberation Sans, Arial, sans-serif" font-size="95" font-weight="normal" fill="#000" stroke="#000" stroke-width="0.6">400</text><text transform="translate(1005.00,1012.50) scale(1.0000,1.0000)" font-family="DejaVu Sans Light, DejaVu Sans, sans-serif" font-size="90" font-weight="200" fill="#000">°</text><text transform="translate(1041.86,1004.80) scale(0.9483,1.0030)" font-family="Liberation Sans, Arial, sans-serif" font-size="95" font-weight="normal" fill="#000" stroke="#000" stroke-width="0.6">C</text></g>
<g><text transform="translate(671.39,1412.90) scale(0.9537,1.0062)" font-family="Liberation Sans, Arial, sans-serif" font-size="95" font-weight="normal" fill="#000" stroke="#000" stroke-width="0.6">T</text><text transform="translate(727.98,1449.20) scale(1.0125,1.0051)" font-family="Liberation Sans, Arial, sans-serif" font-size="53" font-weight="normal" fill="#000" stroke="#000" stroke-width="0.6">d</text><text transform="translate(782.55,1410.10) scale(0.9500,0.9000)" font-family="Liberation Sans, Arial, sans-serif" font-size="95" font-weight="normal" fill="#000" stroke="#000" stroke-width="0.6">=</text><text transform="translate(860.21,1412.81) scale(0.9487,0.9896)" font-family="Liberation Sans, Arial, sans-serif" font-size="95" font-weight="normal" fill="#000" stroke="#000" stroke-width="0.6">399</text><text transform="translate(1005.00,1420.50) scale(1.0000,1.0000)" font-family="DejaVu Sans Light, DejaVu Sans, sans-serif" font-size="90" font-weight="200" fill="#000">°</text><text transform="translate(1041.86,1412.80) scale(0.9483,1.0030)" font-family="Liberation Sans, Arial, sans-serif" font-size="95" font-weight="normal" fill="#000" stroke="#000" stroke-width="0.6">C</text></g>
<g><text transform="translate(671.39,1826.90) scale(0.9537,1.0062)" font-family="Liberation Sans, Arial, sans-serif" font-size="95" font-weight="normal" fill="#000" stroke="#000" stroke-width="0.6">T</text><text transform="translate(727.98,1863.20) scale(1.0125,1.0051)" font-family="Liberation Sans, Arial, sans-serif" font-size="53" font-weight="normal" fill="#000" stroke="#000" stroke-width="0.6">d</text><text transform="translate(782.55,1824.10) scale(0.9500,0.9000)" font-family="Liberation Sans, Arial, sans-serif" font-size="95" font-weight="normal" fill="#000" stroke="#000" stroke-width="0.6">=</text><text transform="translate(860.21,1826.81) scale(0.9487,0.9896)" font-family="Liberation Sans, Arial, sans-serif" font-size="95" font-weight="normal" fill="#000" stroke="#000" stroke-width="0.6">410</text><text transform="translate(1005.00,1834.50) scale(1.0000,1.0000)" font-family="DejaVu Sans Light, DejaVu Sans, sans-serif" font-size="90" font-weight="200" fill="#000">°</text><text transform="translate(1041.86,1826.80) scale(0.9483,1.0030)" font-family="Liberation Sans, Arial, sans-serif" font-size="95" font-weight="normal" fill="#000" stroke="#000" stroke-width="0.6">C</text></g>
<text transform="translate(1097.45,298.68) scale(0.9432,0.9950)" font-family="Liberation Sans, Arial, sans-serif" font-size="95" font-weight="normal" fill="#ff8000" stroke="#ff8000" stroke-width="0.6">Neat epoxy</text>
<text transform="translate(1128.12,699.70) scale(0.9560,1.0030)" font-family="Liberation Sans, Arial, sans-serif" font-size="95" font-weight="normal" fill="#000" stroke="#000" stroke-width="0.6">S2-GNPs</text>
<text transform="translate(1148.22,1113.90) scale(0.9552,1.0045)" font-family="Liberation Sans, Arial, sans-serif" font-size="95" font-weight="normal" fill="#ff0000" stroke="#ff0000" stroke-width="0.6">S4-GNPs</text>
<text transform="translate(1052.39,1536.30) scale(0.9518,1.0045)" font-family="Liberation Sans, Arial, sans-serif" font-size="95" font-weight="normal" fill="#0000ff" stroke="#0000ff" stroke-width="0.6">MS2-GNPs</text>
<text transform="translate(1077.00,1973.00) scale(0.9503,1.0030)" font-family="Liberation Sans, Arial, sans-serif" font-size="95" font-weight="normal" fill="#008000" stroke="#008000" stroke-width="0.6">MS4-GNPs</text>
<text transform="translate(232.71,2268.08) scale(0.9464,1.0209)" font-family="Liberation Sans, Arial, sans-serif" font-size="95" font-weight="bold" fill="#000">300</text>
<text transform="translate(745.84,2268.08) scale(0.9539,1.0209)" font-family="Liberation Sans, Arial, sans-serif" font-size="95" font-weight="bold" fill="#000">500</text>
<text transform="translate(1257.19,2268.08) scale(0.9523,1.0209)" font-family="Liberation Sans, Arial, sans-serif" font-size="95" font-weight="bold" fill="#000">700</text>
<text transform="translate(512.01,2409.70) scale(0.9858,1.0428)" font-family="Liberation Sans, Arial, sans-serif" font-size="95" font-weight="bold" fill="#000">Temperature</text>
<text transform="translate(1096.44,2409.25) scale(0.8923,0.9775)" font-family="Liberation Sans, Arial, sans-serif" font-size="95" font-weight="bold" fill="#000">(</text>
<text transform="translate(1126.24,2413.40) scale(0.9400,0.9621)" font-family="Liberation Sans, Arial, sans-serif" font-size="95" font-weight="bold" fill="#000">°</text>
<text transform="translate(1160.12,2409.26) scale(0.9710,1.0358)" font-family="Liberation Sans, Arial, sans-serif" font-size="95" font-weight="bold" fill="#000">C</text>
<text transform="translate(1230.80,2409.25) scale(0.8667,0.9775)" font-family="Liberation Sans, Arial, sans-serif" font-size="95" font-weight="bold" fill="#000">)</text>
<text transform="translate(91.70,1380.91) rotate(-90) scale(0.9847,1.0352)" font-family="Liberation Sans, Arial, sans-serif" font-size="95" font-weight="bold" fill="#000">DTG</text>
<text transform="translate(91.70,1156.00) rotate(-90) scale(0.9991,1.0352)" font-family="Liberation Sans, Arial, sans-serif" font-size="95" font-weight="bold" fill="#000">(dm/dT)</text>
</svg>
</body></html>
